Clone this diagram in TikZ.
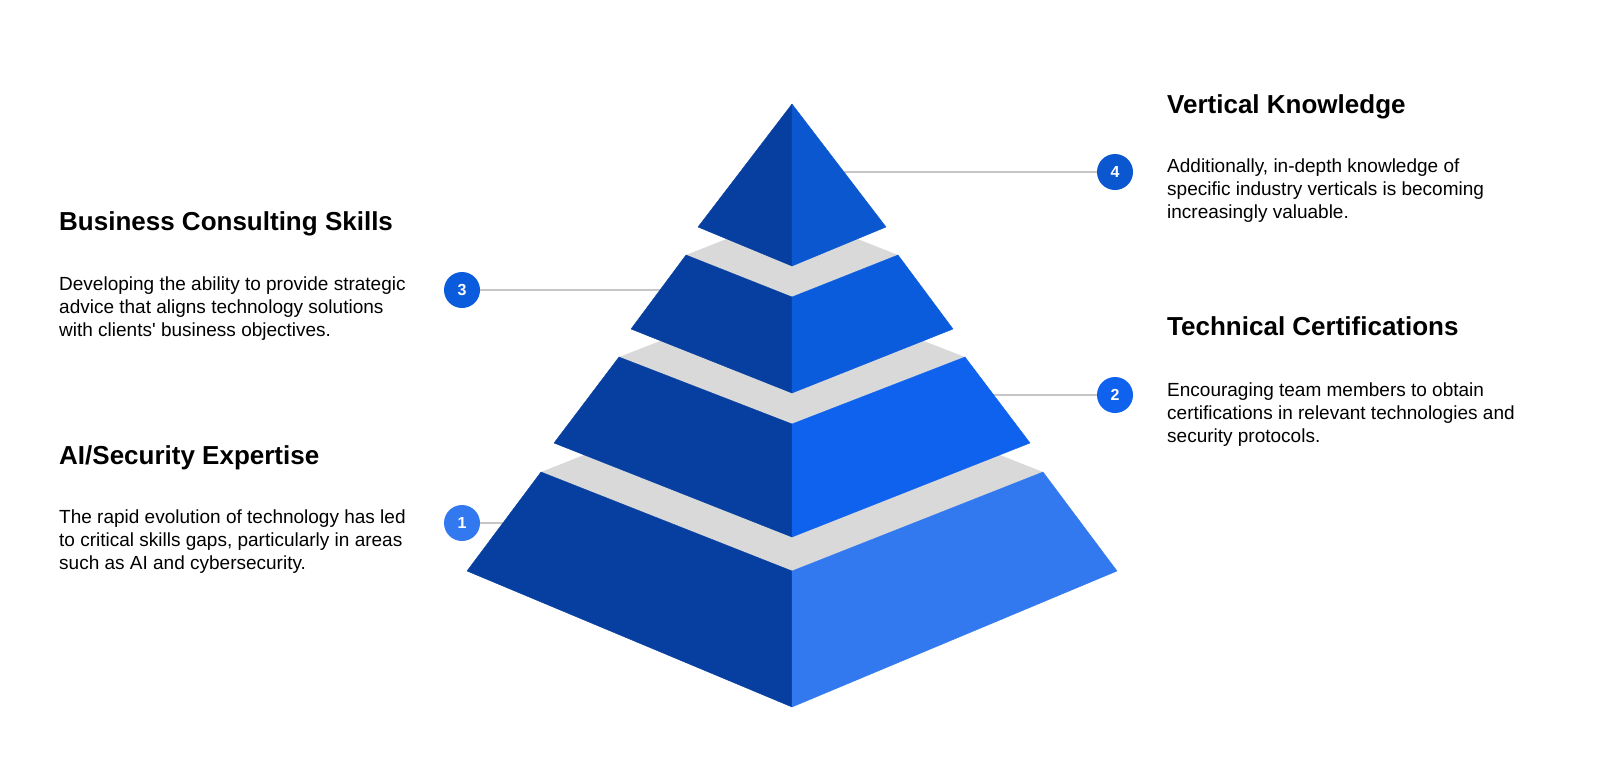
\documentclass[tikz,border=0pt]{standalone}
\usepackage{fontspec}
\setmainfont{Liberation Sans}
\usetikzlibrary{positioning}
\definecolor{darkface}{HTML}{073FA0}
\definecolor{tierfour}{HTML}{0B57D0}
\definecolor{tierthree}{HTML}{0B5BDD}
\definecolor{tiertwo}{HTML}{0F62EE}
\definecolor{tierone}{HTML}{3279F0}
\definecolor{bandgray}{HTML}{D9D9D9}
\definecolor{linegray}{HTML}{C6C6C6}
\tikzset{
  badge/.style={
    circle,
    minimum size=36pt,
    inner sep=0pt,
    text=white,
    font=\fontsize{16}{16}\selectfont\bfseries
  },
  heading/.style={
    anchor=base west,
    inner sep=0pt,
    font=\fontsize{26}{30}\selectfont\bfseries
  },
  blurb/.style={
    anchor=north west,
    inner sep=0pt,
    align=left,
    font=\fontsize{19}{22.8}\selectfont
  },
  leader/.style={draw=linegray, line width=1.5pt},
  face/.style={line width=0.4pt, line join=round}
}

\begin{document}
\begin{tikzpicture}[x=1pt, y=-1pt]
  \useasboundingbox (0,0) rectangle (1600,766);

  % left column
  \node[heading] (bcs) at (59,230) {Business Consulting Skills};
  \node[blurb] (bcs-text) at (59,276.5) {Developing the ability to provide strategic\\advice that aligns technology solutions\\with clients\textquotesingle{} business objectives.};
  \node[heading] (ai) at (59,464) {AI/Security Expertise};
  \node[blurb] (ai-text) at (59,509.5) {The rapid evolution of technology has led\\to critical skills gaps, particularly in areas\\such as AI and cybersecurity.};

  % right column
  \node[heading] (vk) at (1167,113) {Vertical Knowledge};
  \node[blurb] (vk-text) at (1167,158.5) {Additionally, in-depth knowledge of\\specific industry verticals is becoming\\increasingly valuable.};
  \node[heading] (tc) at (1167,335) {Technical Certifications};
  \node[blurb] (tc-text) at (1167,382.5) {Encouraging team members to obtain\\certifications in relevant technologies and\\security protocols.};

  % numbered badges
  \node[badge, fill=tierone] (b1) at (462,523) {1};
  \node[badge, fill=tiertwo] (b2) at (1115,395) {2};
  \node[badge, fill=tierthree] (b3) at (462,290) {3};
  \node[badge, fill=tierfour] (b4) at (1115,172) {4};

  % leader ends hidden behind the pyramid
  \coordinate (p1) at (792,523);
  \coordinate (p2) at (792,395);
  \coordinate (p3) at (792,290);
  \coordinate (p4) at (792,172);
  \draw[leader] (b1) -- (p1);
  \draw[leader] (b2) -- (p2);
  \draw[leader] (b3) -- (p3);
  \draw[leader] (b4) -- (p4);

  % tiers, bottom to top: half top width/top y/top centre y/half bottom width/bottom y/bottom centre y/colour
  \foreach \wt/\yt/\ct/\wb/\yb/\cb/\col in {
      251/472/571/325/571/707/tierone,
      173/357/424/238/443/537/tiertwo,
      106/255/297/161/329/393/tierthree}{
    \fill[bandgray] ({792-\wt},\yt) -- (792,{2*\yt-\ct}) -- ({792+\wt},\yt) -- (792,\ct) -- cycle;
    \filldraw[face, fill=darkface, draw=darkface] ({792-\wt},\yt) -- (792,\ct) -- (792,\cb) -- ({792-\wb},\yb) -- cycle;
    \filldraw[face, fill=\col, draw=\col] (792,\ct) -- ({792+\wt},\yt) -- ({792+\wb},\yb) -- (792,\cb) -- cycle;
  }

  % apex
  \filldraw[face, fill=darkface, draw=darkface] (792,104) -- (698,227) -- (792,266) -- cycle;
  \filldraw[face, fill=tierfour, draw=tierfour] (792,104) -- (792,266) -- (886,227) -- cycle;
\end{tikzpicture}
\end{document}
